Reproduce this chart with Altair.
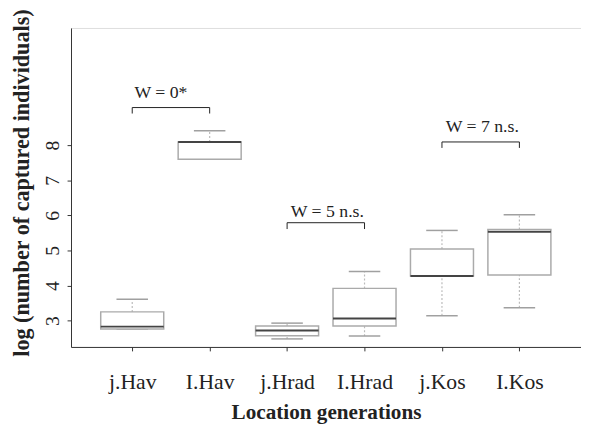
import altair as alt
import pandas as pd

# --- data ---
cats = ["j.Hav", "I.Hav", "j.Hrad", "I.Hrad", "j.Kos", "I.Kos"]
low_whisker = [2.76, 7.60, 2.48, 2.56, 3.14, 3.37]
q1 = [2.76, 7.60, 2.57, 2.85, 4.27, 4.30]
median = [2.83, 8.09, 2.72, 3.06, 4.27, 5.53]
q3 = [3.25, 8.09, 2.85, 3.92, 5.04, 5.60]
high_whisker = [3.61, 8.41, 2.93, 4.40, 5.57, 6.02]

y_ticks = [3, 4, 5, 6, 7, 8]

pair_left = [1, 3, 5]
pair_right = [2, 4, 6]
bracket_level = [9.07, 5.79, 8.09]
bracket_drop = [8.90, 5.61, 7.92]
test_labels = ["W = 0*", "W = 5 n.s.", "W = 7 n.s."]
label_x = [1.37, 3.52, 5.52]
label_y = [9.33, 5.96, 8.37]

pos = list(range(1, len(cats) + 1))
box = pd.DataFrame(dict(cat=cats, pos=pos, lo=low_whisker, q1=q1, med=median,
                        q3=q3, hi=high_whisker))
br = pd.DataFrame(dict(a=pair_left, b=pair_right, lvl=bracket_level,
                       drop=bracket_drop, lx=label_x, ly=label_y, txt=test_labels))

label_expr = "[" + ",".join(f"'{c}'" for c in cats) + "][datum.value - 1]"

FONT = "Liberation Serif"
xscale = alt.Scale(domain=[0.273, 6.732], nice=False, zero=False)
yscale = alt.Scale(domain=[2.251, 11.337], nice=False, zero=False)

xaxis = alt.Axis(values=pos, labelExpr=label_expr, title="Location generations",
                 grid=False, tickSize=4, labelFontSize=22, labelFont=FONT,
                 labelBaseline="alphabetic", labelPadding=38.7, labelColor="#222",
                 titleFont=FONT, titleFontSize=21.5, titleFontWeight="bold",
                 titleBaseline="alphabetic", titleY=73, titleColor="#222",
                 domainColor="#333", tickColor="#333")
yaxis = alt.Axis(values=y_ticks, title="log (number of captured individuals)",
                 grid=False, tickSize=4, labelFontSize=20, labelFont=FONT,
                 labelAngle=270, labelAlign="center", labelBaseline="alphabetic",
                 labelPadding=9, labelColor="#222",
                 titleFont=FONT, titleFontSize=22.5, titleFontWeight="bold",
                 titleX=-50, titleY=157, titleAlign="center",
                 titleBaseline="middle", titleColor="#222",
                 domainColor="#333", tickColor="#333")


def X(field):
    return alt.X(f"{field}:Q", scale=xscale, axis=xaxis)


def Y(field):
    return alt.Y(f"{field}:Q", scale=yscale, axis=yaxis)


base = alt.Chart(box)
whisk_up = base.mark_rule(color="#bbbbbb", strokeDash=[2, 2], strokeWidth=1.2).encode(
    x=X("pos"), y=Y("q3"), y2="hi:Q")
whisk_dn = base.mark_rule(color="#bbbbbb", strokeDash=[2, 2], strokeWidth=1.2).encode(
    x=X("pos"), y=Y("lo"), y2="q1:Q")
cap_hi = base.mark_tick(orient="horizontal", size=32, thickness=1.5, color="#a0a0a0",
                        opacity=1).encode(x=X("pos"), y=Y("hi"))
cap_lo = base.mark_tick(orient="horizontal", size=32, thickness=1.5, color="#a0a0a0",
                        opacity=1).encode(x=X("pos"), y=Y("lo"))
boxes = base.mark_bar(size=64, fill="white", stroke="#aaaaaa", strokeWidth=1.5).encode(
    x=X("pos"), y=Y("q1"), y2="q3:Q")
medians = base.mark_tick(orient="horizontal", size=64, thickness=2, color="#444444",
                         opacity=1).encode(x=X("pos"), y=Y("med"))

bb = alt.Chart(br)
br_line = bb.mark_rule(color="#222", strokeWidth=1).encode(
    x=X("a"), x2="b:Q", y=Y("lvl"))
br_left = bb.mark_rule(color="#222", strokeWidth=1).encode(
    x=X("a"), y=Y("lvl"), y2="drop:Q")
br_right = bb.mark_rule(color="#222", strokeWidth=1).encode(
    x=X("b"), y=Y("lvl"), y2="drop:Q")
br_text = bb.mark_text(font=FONT, fontSize=18, align="center", baseline="alphabetic",
                       color="#222").encode(x=X("lx"), y=Y("ly"), text="txt:N")

chart = alt.layer(
    whisk_up, whisk_dn, cap_hi, cap_lo, boxes, medians,
    br_line, br_left, br_right, br_text,
).properties(
    width=518, height=324,
    autosize=alt.AutoSizeParams(type="none"),
    padding={"left": 64, "top": 17, "right": 0, "bottom": 77},
).configure_view(stroke="#333", strokeWidth=1).configure(font=FONT)

chart.save("out.html", embed_options={"renderer": "svg", "actions": False})
